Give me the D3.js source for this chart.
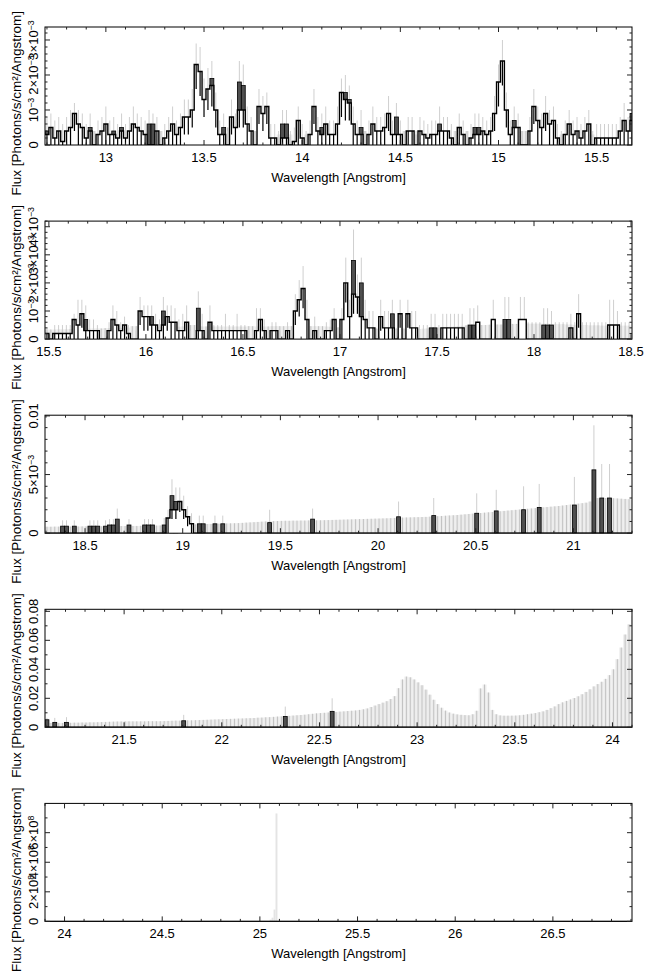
<!DOCTYPE html>
<html><head><meta charset="utf-8">
<script src="https://cdn.jsdelivr.net/npm/d3@7"></script>
<style>
body{margin:0;background:#fff}
svg{display:block}
text{font-family:'Liberation Sans',Arial,Helvetica,sans-serif;fill:#000}
</style>
</head><body>
<svg id="c" width="653" height="972"></svg>
<script>
// ---------------- DATA ----------------
// Panel 1: 12.69 - 15.68 A, bins of 0.02 A, flux in 1e-4 photons/s/cm2/A
const p1Flux = [3,5,2,4,1,4,5,9,6,5, 2,4,0,3,4,6,3,3,2,4, 2,4,6,5,4,3,0,0,4,0, 2,4,6,3,5,8,8,10,23,21,
 13,16,17,10,3,3,0,8,5,10, 10,6,4,0,11,9,11,2,2,0, 2,2,0,1,7,2,0,3,11,4, 3,6,3,3,6,15,13,12,6,3,
 3,0,3,6,4,4,5,9,3,3, 3,0,4,4,0,4,3,2,3,3, 4,4,4,2,0,5,3,0,2,3, 3,4,3,4,9,18,24,10,3,5,
 5,0,0,4,11,7,5,9,6,7, 2,0,3,6,3,4,2,4,6,0, 2,2,2,2,2,2,4,7,4,7];
const p1AltIdx = [0,11,17,19,26,27,42,45,49,50,60,61,70,76,77,80,89,100,109,110,119,149];
const p1AltVal = [4,5,4,5,6,6,19,5,18,17,6,6,5,15,13,5,8,6,5,5,7,9];
const p1Err = [8,9,7,8,6,8,10,12,10,9, 6,9,4,7,8,11,7,8,6,9, 6,8,11,9,8,7,10,9,8,4, 6,8,11,7,9,13,13,16,29,28,
 19,22,24,15,7,9,4,13,9,24, 23,11,8,4,16,14,15,6,6,4, 10,10,4,5,11,6,4,7,16,8, 9,11,7,7,11,19,20,17,11,7,
 10,4,7,11,8,8,9,14,7,12, 7,4,8,8,4,8,7,6,7,7, 11,8,8,6,4,9,7,4,6,9, 9,8,7,8,14,23,30,15,7,11,
 9,4,4,8,16,11,9,14,10,11, 6,4,7,10,7,8,6,8,10,4, 6,6,6,6,6,6,8,12,8,14];
// lower end of the error bar where it does not reach zero
const p1LoIdx = [7,35,36,37,38,39,40,41,42,43,47,49,50,54,55,56,68,75,76,77,87,114,115,116,117,124,127];
const p1LoVal = [4,3,3,5,16,14,8,10,11,5,3,5,5,6,4,6,6,8,7,7,4,4,11,17,5,6,4];
const p1BgIdx = [12,29,46,53,59,62,66,81,91,94,104,107,121,122,131,139];
const p1BgVal = [4,4,5,4,3,3,3,4,4,3,4,4,4,4,3,3];
const p1XTicks = [13,13.5,14,14.5,15,15.5];
const p1YTicks = [0,1e-3,2e-3,3e-3];
const p1YLabels = ["0","10^−3","2×10^−3","3×10^−3"];

// Panel 2: 15.48 - 18.5 A, bins of 0.02 A, flux in 1e-4
const p2Flux = [2,0,2,2,2,2,2,7,5,9, 3,3,3,3,0,0,3,7,5,3, 5,2,0,0,10,8,8,5,5,3, 5,8,6,6,3,3,6,0,0,3,
 3,0,6,3,3,3,3,3,3,3, 3,3,0,0,3,7,3,0,3,3, 0,0,3,0,10,14,18,7,0,3, 0,0,3,3,7,0,7,20,8,16,
 15,8,7,4,4,0,8,4,4,4, 0,9,0,9,4,4,0,0,0,0, 0,0,4,4,4,4,4,4,0,0, 0,6,0,0,0,7,0,0,0,0,
 0,0,7,7,0,0,0,0,0,0, 0,0,0,0,0,4,0,9,0,0, 0,0,0,0,0,5,5,5,0,0, 0];
const p2AltIdx = [10,27,30,39,79,81,89,99,100,109,110,118,119,128,129,130];
const p2AltVal = [7,8,10,11,28,20,9,4,4,5,5,7,7,5,5,5];
const p2Err = [4,3,5,5,5,5,5,9,14,14, 12,7,7,5,3,3,6,12,10,6, 8,5,3,3,15,12,12,12,9,7, 15,12,12,11,7,9,12,3,3,17,
 9,3,12,5,5,5,9,5,5,9, 5,5,3,3,11,11,7,3,6,6, 3,3,6,3,16,21,26,14,3,8, 3,3,6,7,11,4,11,29,14,39,
 23,29,14,10,10,4,14,10,10,14, 4,14,4,14,10,10,5,5,5,9, 9,5,9,9,9,9,9,9,5,11, 11,12,5,5,5,14,5,5,15,15,
 5,5,15,15,6,6,6,6,11,11, 10,6,6,6,6,9,6,16,6,6, 6,6,6,6,6,14,14,10,6,6, 6];
const p2LoIdx = [9,24,25,26,31,64,65,66,77,79,80,86,91,93,111,115,122,123,137];
const p2LoVal = [4,5,3,3,3,5,8,11,13,9,9,3,4,4,6,7,7,7,4];
const p2Bg = [3.4,3.4,3.4,3.5,3.5,3.5,3.6,3.6,3.6,3.7, 3.7,3.7,3.8,3.8,3.8,3.9,3.9,4.0,4.0,4.0,
 4.1,4.1,4.6,4.6,4.2,4.2,4.2,4.3,4.3,4.3, 4.3,4.4,4.4,4.4,4.4,4.5,4.5,5.0,5.0,4.5,
 4.5,4.5,4.5,4.5,4.5,4.5,4.5,4.5,4.5,4.5, 4.5,4.5,4.6,4.6,4.5,4.5,4.5,4.5,4.6,4.6,
 4.6,4.6,4.6,4.6,4.6,4.6,4.6,4.6,4.6,4.6, 4.6,4.6,4.5,4.4,4.3,4.2,4.1,4.0,3.9,3.8,
 3.8,3.7,3.7,3.7,3.6,3.6,3.6,3.6,3.6,3.6, 3.6,3.6,3.6,3.6,3.6,3.6,3.6,3.7,3.8,3.9,
 4.0,4.1,4.2,4.3,4.4,4.5,4.6,4.7,4.8,4.8, 4.9,4.9,5.0,5.0,5.1,5.1,5.2,5.2,5.3,5.3,
 5.4,5.4,5.5,5.5,5.5,5.5,5.5,5.5,5.5,5.5, 5.4,5.4,5.3,5.3,5.2,5.2,5.1,5.1,5.0,5.0,
 4.9,4.9,4.9,4.8,4.8,4.8,4.8,4.8,4.8,4.8, 4.8];
const p2XTicks = [15.5,16,16.5,17,17.5,18,18.5];
const p2YTicks = [0,1e-3,2e-3,3e-3,4e-3];
const p2YLabels = ["0","10^−3","2×10^−3","3×10^−3","4×10^−3"];

// Panel 3: 18.295 - 21.3 A, bins of 0.02 A, flux in 1e-4
const p3FluxIdx = [31,32,33,34,35,36,37];
const p3FluxVal = [13,20,20,27,20,14,8];
const p3LoIdx = [32,33,34,35,36];
const p3LoVal = [12,12,18,12,6];
const p3AltIdx = [4,5,7,11,12,13,15,16,17,18, 21,25,26,27,30,32,33,39,40,43, 45,57,68,90,99,110,115,122,126,135, 140,142,144];
const p3AltVal = [6,6,6,6,6,6,6,7,7,12, 7,7,7,7,7,32,27,8,8,8, 8,9,12,14,15,17,19,20,22,24, 54,30,30];
const p3ErrIdx = [4,5,7,11,12,13,15,16,17,18, 21,25,26,27,30,31,32,33,34,35, 36,37,39,40,43,45,57,68,90,99, 110,115,122,126,135,140,142,144];
const p3ErrVal = [11,11,11,11,11,11,11,12,12,21, 12,12,12,12,13,20,46,39,39,32, 23,17,15,15,15,15,20,21,27,30, 34,37,40,42,48,92,59,59];
const p3Bg = [5.5,5.5,5.6,5.6,5.6,5.6,5.7,5.7,5.7,5.8, 5.8,5.8,5.9,5.9,5.9,6.0,6.0,6.0,6.1,6.1,
 6.1,6.2,6.2,6.2,6.3,6.3,6.4,6.4,6.5,6.6, 6.7,6.8,6.9,7.0,7.1,7.2,7.3,7.4,7.5,7.6,
 7.7,7.8,7.9,8.0,8.1,8.2,8.3,8.4,8.5,8.6, 8.8,9.0,9.2,9.4,9.6,9.8,10.0,10.2,10.3,10.4,
 10.5,10.6,10.6,10.7,10.7,10.8,10.8,10.9,10.9,11.0, 11.0,11.1,11.2,11.3,11.4,11.5,11.6,11.7,11.8,11.9,
 12.0,12.1,12.2,12.3,12.4,12.5,12.6,12.7,12.8,13.0, 13.2,13.3,13.4,13.5,13.6,13.7,13.8,13.9,14.1,14.3,
 14.5,14.7,14.9,15.1,15.3,15.5,15.8,16.1,16.4,16.7, 17.0,17.2,17.5,17.8,18.1,18.4,18.7,19.0,19.3,19.6,
 19.9,20.2,20.5,20.8,21.1,21.4,21.7,22.0,22.3,22.6, 22.9,23.2,23.6,24.0,24.4,24.8,25.2,25.6,26.0,27.0,
 29.4,30.0,30.0,30.0,30.0,29.8,29.6,29.4,29.2,29.0, 28.8];
const p3XTicks = [18.5,19,19.5,20,20.5,21];
const p3YTicks = [0,5e-3,0.01];
const p3YLabels = ["0","5×10^−3","0.01"];

// Panel 4: 21.095 - 24.1 A, bins of 0.02 A, flux in 1e-3
const p4AltIdx = [0,2,5,35,61,73];
const p4AltVal = [5.2,3.4,3.4,4.5,7.5,11];
const p4ErrIdx = [0,2,5,35,61,73];
const p4ErrVal = [6.5,6.5,7,8.6,14.3,20];
const p4Bg = [3.0,3.0,3.0,3.0,3.0,3.1,3.1,3.2,3.2,3.3, 3.3,3.4,3.4,3.5,3.6,3.7,3.8,3.9,4.0,4.0,
 4.1,4.1,4.1,4.1,4.1,4.1,4.2,4.2,4.2,4.2, 4.3,4.4,4.5,4.6,4.6,4.7,4.8,4.8,4.9,5.0,
 5.1,5.2,5.3,5.4,5.5,5.6,5.7,5.8,5.9,6.0, 6.1,6.2,6.3,6.4,6.6,6.7,6.9,7.0,7.2,7.4,
 7.5,7.7,7.9,8.1,8.3,8.5,8.7,9.0,9.3,9.6, 9.8,10.0,10.2,10.4,10.6,10.8,11.0,11.2,11.4,11.6,
 12.0,12.4,13.0,14.0,15.0,16.0,17.0,18.0,19.5,21.5, 27.0,33.0,35.0,34.5,33.0,31.0,29.0,26.0,22.5,19.0,
 16.0,13.5,11.5,10.2,9.4,8.9,8.6,8.4,8.3,9.0, 11.4,26.8,29.5,24.0,12.0,9.0,8.2,8.0,8.0,8.0,
 8.1,8.3,8.6,9.0,9.4,9.8,10.4,11.0,12.0,13.2, 14.4,16.0,17.2,18.2,19.2,20.2,21.4,22.8,24.4,26.2,
 28.2,29.8,31.4,33.4,36.0,40.0,47.0,55.0,64.0,71.0,77.0];
const p4XTicks = [21.5,22,22.5,23,23.5,24];
const p4YTicks = [0,0.02,0.04,0.06,0.08];
const p4YLabels = ["0","0.02","0.04","0.06","0.08"];

// Panel 5: 23.9 - 26.9 A, bins of 0.01 A, flux in 1e8
const p5BgIdx = [115,116,117,118];
const p5BgVal = [0.12,0.25,0.8,7.3];
const p5XTicks = [24,24.5,25,25.5,26,26.5];
const p5YTicks = [0,2e8,4e8,6e8];
const p5YLabels = ["0","2×10^8","4×10^8","6×10^8"];

const xTitle = "Wavelength [Angstrom]";
const yTitle = "Flux [Photons/s/cm²/Angstrom]";

// ---------------- BUILD ----------------
function dense(n, idx, vals){ const a = new Array(n).fill(0); idx.forEach((k,j)=>{a[k]=vals[j];}); return a; }

const panels = [
 {start:12.69, width:0.02, n:150, unit:1e-4, xDomain:[12.69,15.68], yMax:3.371e-3, yMinor:2e-4,
  flux:p1Flux, lo:dense(150,p1LoIdx,p1LoVal), alt:dense(150,p1AltIdx,p1AltVal), err:p1Err, bg:dense(150,p1BgIdx,p1BgVal), bgLines:true,
  xTicks:p1XTicks, yTicks:p1YTicks, yLabels:p1YLabels},
 {start:15.48, width:0.02, n:151, unit:1e-4, xDomain:[15.48,18.505], yMax:4.2e-3, yMinor:2e-4,
  flux:p2Flux, lo:dense(151,p2LoIdx,p2LoVal), alt:dense(151,p2AltIdx,p2AltVal), err:p2Err, bg:p2Bg, bgLines:true,
  xTicks:p2XTicks, yTicks:p2YTicks, yLabels:p2YLabels},
 {start:18.295, width:0.02, n:151, unit:1e-4, xDomain:[18.295,21.3], yMax:0.01006, yMinor:1e-3,
  flux:dense(151,p3FluxIdx,p3FluxVal), lo:dense(151,p3LoIdx,p3LoVal), alt:dense(151,p3AltIdx,p3AltVal), err:dense(151,p3ErrIdx,p3ErrVal), bg:p3Bg, bgLines:true,
  xTicks:p3XTicks, yTicks:p3YTicks, yLabels:p3YLabels},
 {start:21.095, width:0.02, n:151, unit:1e-3, xDomain:[21.095,24.1], yMax:0.0814, yMinor:0.01,
  flux:dense(151,[],[]), lo:dense(151,[],[]), alt:dense(151,p4AltIdx,p4AltVal), err:dense(151,p4ErrIdx,p4ErrVal), bg:p4Bg, bgLines:true,
  xTicks:p4XTicks, yTicks:p4YTicks, yLabels:p4YLabels},
 {start:23.9, width:0.01, n:300, unit:1e8, xDomain:[23.9,26.905], yMax:7.98e8, yMinor:1e8,
  flux:dense(300,[],[]), lo:dense(300,[],[]), alt:dense(300,[],[]), err:dense(300,[],[]), bg:dense(300,p5BgIdx,p5BgVal), bgLines:false,
  xTicks:p5XTicks, yTicks:p5YTicks, yLabels:p5YLabels}
];

const svg = d3.select('#c');
const LEFT = 45, RIGHT = 632, H = 118, TOP0 = 27, GAP = 194.1;
const defs = svg.append('defs');

function addLabel(sel, str){
  const parts = str.split('^');
  sel.append('tspan').text(parts[0]);
  if (parts[1]) sel.append('tspan').attr('font-size','0.68em').attr('dy','-0.5em').text(parts[1]);
}

panels.forEach((p,k)=>{
  const top = TOP0 + GAP*k, bottom = top + H;
  const x = d3.scaleLinear().domain(p.xDomain).range([LEFT,RIGHT]);
  const y = d3.scaleLinear().domain([0,p.yMax]).range([bottom,top]);
  defs.append('clipPath').attr('id','clip'+k).append('rect')
    .attr('x',LEFT).attr('y',top).attr('width',RIGHT-LEFT).attr('height',H);
  const g = svg.append('g');
  const plot = g.append('g').attr('clip-path',`url(#clip${k})`);

  const bins = d3.range(p.n).map(i=>({
    x0:p.start+i*p.width, x1:p.start+(i+1)*p.width,
    a:p.flux[i]*p.unit, lo:p.lo[i]*p.unit, b:p.alt[i]*p.unit, e:p.err[i]*p.unit, g:p.bg[i]*p.unit
  }));
  const cx = d=>x((d.x0+d.x1)/2);
  const bgBins = bins.filter(d=>d.g>0);

  // background / model band
  plot.append('g').selectAll('rect').data(bgBins).join('rect')
    .attr('x',d=>x(d.x0)).attr('width',d=>Math.max(1,x(d.x1)-x(d.x0)))
    .attr('y',d=>y(d.g)).attr('height',d=>bottom-y(d.g))
    .attr('fill', p.bgLines ? '#ececec' : '#e4e4e4');
  if (p.bgLines) {
    plot.append('g').selectAll('line').data(bgBins).join('line')
      .attr('x1',cx).attr('x2',cx).attr('y1',bottom).attr('y2',d=>y(d.g))
      .attr('stroke','#c2c2c2').attr('stroke-width',1);
  }
  // upper error bars
  plot.append('g').selectAll('line').data(bins.filter(d=>d.e>Math.max(d.a,d.b))).join('line')
    .attr('x1',cx).attr('x2',cx)
    .attr('y1',d=>y(Math.max(d.a,d.b))).attr('y2',d=>y(d.e))
    .attr('stroke','#cfcfcf').attr('stroke-width',1);
  // second (dark) histogram
  plot.append('g').selectAll('rect').data(bins.filter(d=>d.b>0)).join('rect')
    .attr('x',d=>x(d.x0)).attr('width',d=>x(d.x1)-x(d.x0))
    .attr('y',d=>y(d.b)).attr('height',d=>bottom-y(d.b))
    .attr('fill','#4f4f4f').attr('stroke','#000').attr('stroke-width',0.8);
  // main histogram (white filled step)
  const pts = bins.map(d=>[d.x0,d.a]).concat([[bins[bins.length-1].x1, bins[bins.length-1].a]]);
  plot.append('path')
    .attr('d', d3.area().x(d=>x(d[0])).y0(bottom).y1(d=>y(d[1])).curve(d3.curveStepAfter)(pts))
    .attr('fill','#fff');
  // lower error bars (black)
  plot.append('g').selectAll('line').data(bins.filter(d=>d.a>d.lo)).join('line')
    .attr('x1',cx).attr('x2',cx).attr('y1',d=>y(d.lo)).attr('y2',d=>y(d.a))
    .attr('stroke','#000').attr('stroke-width',1.2);
  plot.append('path')
    .attr('d', d3.line().x(d=>x(d[0])).y(d=>y(d[1])).curve(d3.curveStepAfter)(pts))
    .attr('fill','none').attr('stroke','#000').attr('stroke-width',1.4);

  // frame
  g.append('rect').attr('x',LEFT).attr('y',top).attr('width',RIGHT-LEFT).attr('height',H)
    .attr('fill','none').attr('stroke','#000').attr('stroke-width',1);

  // x ticks
  const minor = d3.range(Math.ceil(p.xDomain[0]*10-1e-6), Math.floor(p.xDomain[1]*10+1e-6)+1).map(v=>v/10);
  const tk = g.append('g').attr('stroke','#222').attr('stroke-width',1);
  minor.forEach(v=>{
    const isMaj = p.xTicks.some(t=>Math.abs(t-v)<1e-6);
    const L = isMaj ? 5 : 2.5;
    tk.append('line').attr('x1',x(v)).attr('x2',x(v)).attr('y1',bottom).attr('y2',bottom-L);
    tk.append('line').attr('x1',x(v)).attr('x2',x(v)).attr('y1',top).attr('y2',top+L);
  });
  g.append('g').selectAll('text').data(p.xTicks).join('text')
    .attr('x',d=>x(d)).attr('y',bottom+17).attr('text-anchor','middle').attr('font-size',13)
    .text(d=>String(d));

  // y ticks
  const ym = d3.range(0, Math.floor(p.yMax/p.yMinor+1e-6)+1).map(i=>i*p.yMinor);
  ym.forEach(v=>{
    const isMaj = p.yTicks.some(t=>Math.abs(t-v)<p.yMinor*1e-3);
    const L = isMaj ? 5 : 2.5;
    tk.append('line').attr('x1',LEFT).attr('x2',LEFT+L).attr('y1',y(v)).attr('y2',y(v));
    tk.append('line').attr('x1',RIGHT).attr('x2',RIGHT-L).attr('y1',y(v)).attr('y2',y(v));
  });
  p.yTicks.forEach((v,j)=>{
    const t = g.append('text').attr('transform',`translate(38,${y(v)}) rotate(-90)`)
      .attr('text-anchor','middle').attr('font-size',13);
    addLabel(t, p.yLabels[j]);
  });

  // titles
  g.append('text').attr('x',(LEFT+RIGHT)/2).attr('y',bottom+37).attr('text-anchor','middle')
    .attr('font-size',13).text(xTitle);
  g.append('text').attr('transform',`translate(21,${top-16}) rotate(-90)`)
    .attr('text-anchor','end').attr('font-size',13.5).text(yTitle);
});
</script>
</body></html>
